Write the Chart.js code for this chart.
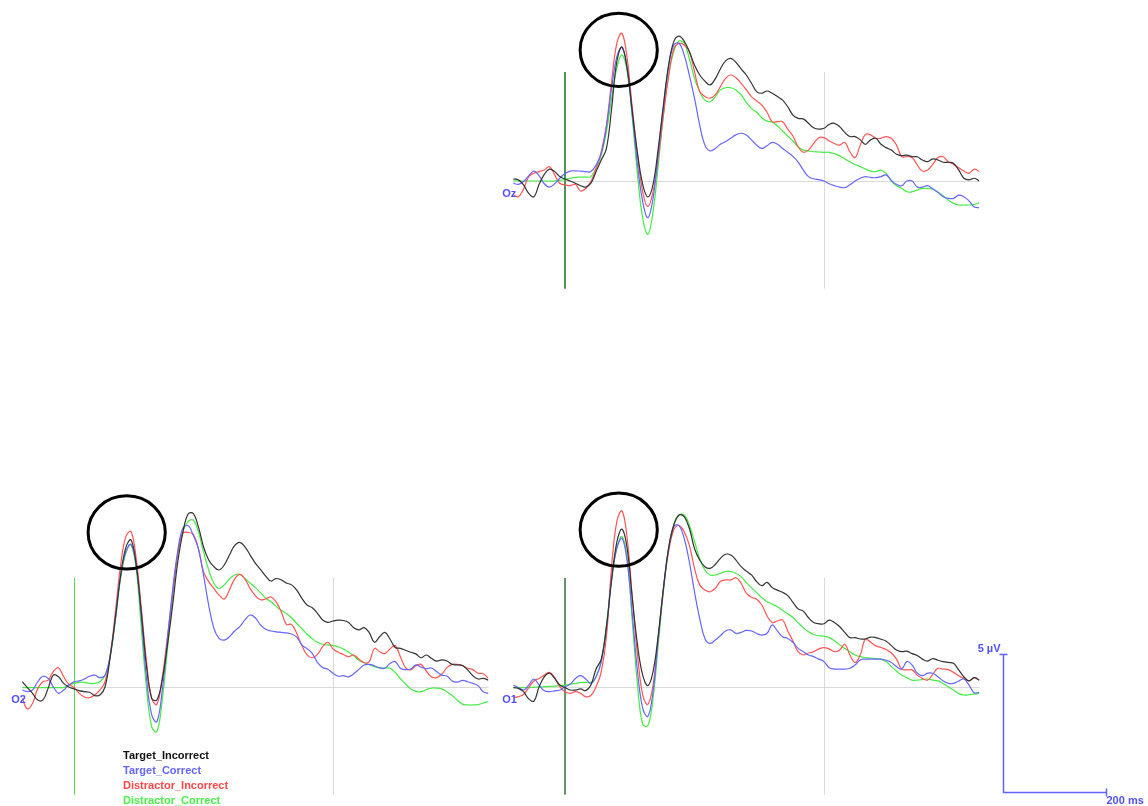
<!DOCTYPE html>
<html>
<head>
<meta charset="utf-8">
<title>ERP – occipital channels</title>
<script src="https://cdn.jsdelivr.net/npm/chart.js@4.4.1/dist/chart.umd.min.js"></script>
<style>
  html, body { margin: 0; padding: 0; background: #fff; }
  body { width: 1148px; height: 806px; position: relative; overflow: hidden; }
  canvas { position: absolute; }
</style>
</head>
<body>
<canvas id="oz"></canvas>
<canvas id="o2"></canvas>
<canvas id="o1"></canvas>
<script>
// Time axis (ms, 10 ms steps, epoch -100 .. 800 ms)
const times = [-100,-90,-80,-70,-60,-50,-40,-30,-20,-10,
  0,10,20,30,40,50,60,70,80,90,
  100,110,120,130,140,150,160,170,180,190,
  200,210,220,230,240,250,260,270,280,290,
  300,310,320,330,340,350,360,370,380,390,
  400,410,420,430,440,450,460,470,480,490,
  500,510,520,530,540,550,560,570,580,590,
  600,610,620,630,640,650,660,670,680,690,
  700,710,720,730,740,750,760,770,780,790,800];

const conditions = ['Target_Incorrect', 'Target_Correct', 'Distractor_Incorrect', 'Distractor_Correct'];

// Grand-average amplitudes in µV — channel Oz
const ozTargetIncorrect = [0.07,0.04,-0.14,-0.45,-0.57,-0.12,0.24,0.43,0.34,0.16,
  0.07,0.00,-0.08,-0.17,-0.22,-0.08,0.34,0.76,1.18,2.63,
  4.32,4.86,4.08,2.51,1.00,-0.12,-0.58,-0.12,1.18,2.75,
  4.20,5.05,5.25,5.07,4.69,4.20,3.84,3.62,3.48,3.70,
  4.06,4.35,4.44,4.30,4.06,3.84,3.54,3.24,3.18,3.26,
  3.18,3.06,2.93,2.69,2.39,2.27,2.25,2.09,1.93,1.88,
  1.91,2.05,2.09,1.97,1.76,1.61,1.61,1.49,1.33,1.49,
  1.55,1.33,1.21,1.12,0.97,0.92,0.94,0.88,0.88,0.76,
  0.70,0.80,0.76,0.68,0.68,0.64,0.40,0.10,0.04,0.10,0.00];
const ozTargetCorrect = [-0.08,-0.12,-0.02,0.19,0.36,0.19,-0.10,-0.22,-0.10,0.10,
  0.27,0.36,0.37,0.36,0.34,0.34,0.58,1.00,1.97,3.36,
  4.50,4.83,4.08,2.39,0.58,-0.75,-1.33,-0.63,1.00,2.69,
  4.14,4.93,4.99,4.57,3.84,3.00,2.03,1.30,1.09,1.18,
  1.33,1.43,1.55,1.67,1.73,1.67,1.49,1.30,1.18,1.28,
  1.40,1.33,1.18,1.04,0.89,0.68,0.40,0.16,0.08,0.05,
  0.00,-0.10,-0.17,-0.22,-0.24,-0.14,0.00,0.10,0.16,0.13,
  0.12,0.16,0.22,0.02,-0.12,-0.17,0.00,0.00,-0.22,-0.22,
  -0.17,-0.29,-0.41,-0.57,-0.63,-0.63,-0.51,-0.57,-0.72,-0.94,-0.97];
const ozDistractorIncorrect = [-0.51,-0.57,-0.29,0.16,0.28,0.34,0.40,0.52,0.22,-0.08,
  -0.14,-0.17,-0.12,-0.36,-0.27,-0.02,0.46,1.06,2.03,3.60,
  4.99,5.35,4.44,2.63,0.94,-0.39,-0.93,-0.39,0.82,2.39,
  3.78,4.78,4.99,4.93,4.69,3.96,3.24,3.06,3.00,3.12,
  3.42,3.72,3.84,3.74,3.54,3.30,3.06,2.90,2.75,2.49,
  2.15,2.15,2.15,1.88,1.63,1.24,1.04,1.12,1.36,1.57,
  1.57,1.45,1.36,1.30,1.40,1.06,0.85,1.30,1.69,1.67,
  1.55,1.55,1.61,1.55,1.30,0.88,0.88,0.85,0.58,0.36,
  0.40,0.60,0.85,0.88,0.70,0.60,0.48,0.36,0.28,0.43,0.34];
const ozDistractorCorrect = [0.00,0.00,0.00,0.00,0.00,0.00,0.00,0.00,0.00,0.02,
  0.06,0.10,0.13,0.14,0.14,0.16,0.46,0.94,1.79,3.00,
  4.08,4.57,3.96,2.27,0.22,-1.35,-1.93,-1.11,0.58,2.39,
  3.84,4.69,5.07,4.99,4.44,3.72,3.24,2.93,2.87,3.05,
  3.30,3.38,3.38,3.30,3.12,2.85,2.63,2.49,2.29,2.17,
  2.13,2.00,1.81,1.63,1.45,1.24,1.12,1.09,1.06,1.05,
  1.04,1.04,0.99,0.91,0.80,0.70,0.60,0.52,0.43,0.36,
  0.34,0.39,0.27,0.00,-0.17,-0.27,-0.39,-0.39,-0.33,-0.27,
  -0.27,-0.29,-0.41,-0.53,-0.69,-0.81,-0.87,-0.87,-0.87,-0.85,-0.79];

// Channel O2
const o2TargetIncorrect = [0.19,-0.02,-0.23,-0.47,-0.47,-0.05,0.43,0.37,0.13,0.00,
  -0.07,-0.13,-0.17,-0.19,-0.31,-0.29,0.01,1.11,2.52,4.03,
  5.05,5.33,4.44,2.69,0.76,-0.41,-0.47,0.23,1.46,2.90,
  4.48,5.58,6.26,6.29,5.81,5.08,4.60,4.36,4.24,4.42,
  4.78,5.12,5.24,5.08,4.78,4.49,4.26,4.02,3.84,3.93,
  3.88,3.77,3.70,3.51,3.21,2.97,2.87,2.67,2.43,2.34,
  2.39,2.42,2.41,2.34,2.15,2.07,2.15,1.97,1.62,1.82,
  1.98,1.74,1.43,1.40,1.33,1.26,1.20,1.06,1.16,1.04,
  0.94,0.98,0.94,0.82,0.80,0.78,0.62,0.41,0.29,0.31,0.25];
const o2TargetCorrect = [-0.11,-0.17,-0.11,0.19,0.39,0.31,0.01,-0.23,-0.11,0.07,
  0.19,0.22,0.29,0.39,0.43,0.34,0.43,1.16,2.49,4.06,
  4.90,5.17,4.42,2.49,0.31,-1.01,-1.26,-0.17,1.64,3.45,
  4.90,5.75,5.85,5.51,5.02,4.06,2.97,2.13,1.76,1.70,
  1.82,2.03,2.19,2.43,2.61,2.51,2.25,2.09,2.03,2.00,
  1.98,1.96,1.92,1.81,1.52,1.39,1.22,0.89,0.71,0.64,
  0.50,0.39,0.41,0.37,0.48,0.64,0.80,0.82,0.77,0.69,
  0.68,0.85,0.92,0.68,0.63,0.65,0.80,0.72,0.66,0.69,
  0.56,0.43,0.40,0.22,0.18,0.24,0.19,0.13,0.05,-0.17,-0.23];
const o2DistractorIncorrect = [-0.41,-0.80,-0.59,-0.05,0.19,0.25,0.56,0.70,0.37,0.10,
  -0.02,-0.23,-0.36,-0.39,-0.29,-0.11,0.19,1.16,2.73,4.42,
  5.45,5.63,4.66,2.85,0.92,-0.41,-0.63,0.29,1.76,3.33,
  4.78,5.57,5.60,5.53,5.02,4.18,3.82,3.57,3.33,3.19,
  3.51,3.91,4.08,3.91,3.57,3.31,3.16,3.19,3.26,3.09,
  2.73,2.27,2.27,1.94,1.50,1.16,1.06,1.18,1.46,1.62,
  1.38,1.26,1.18,1.10,1.16,1.01,0.88,0.92,1.40,1.28,
  1.21,1.38,1.50,1.10,0.70,0.62,0.77,0.82,0.58,0.37,
  0.34,0.46,0.70,0.82,0.82,0.77,0.68,0.63,0.50,0.48,0.31];
const o2DistractorCorrect = [-0.02,-0.02,-0.02,-0.02,-0.02,-0.02,-0.02,-0.02,-0.02,0.07,
  0.13,0.17,0.17,0.13,0.13,0.19,0.43,1.10,2.42,3.93,
  4.84,5.15,4.30,2.12,-0.05,-1.44,-1.62,-0.53,1.28,3.21,
  4.78,5.63,5.99,6.05,5.63,4.90,4.24,3.76,3.57,3.70,
  3.91,4.06,4.08,3.93,3.76,3.61,3.42,3.22,3.09,2.93,
  2.78,2.66,2.51,2.30,2.11,1.91,1.75,1.62,1.55,1.52,
  1.51,1.46,1.38,1.27,1.13,0.97,0.88,0.81,0.74,0.69,
  0.69,0.68,0.53,0.30,0.11,-0.06,-0.16,-0.17,-0.10,-0.04,
  -0.04,-0.07,-0.17,-0.31,-0.48,-0.62,-0.65,-0.65,-0.64,-0.58,-0.53];

// Channel O1
const o1TargetIncorrect = [-0.02,-0.05,-0.17,-0.43,-0.51,0.01,0.37,0.50,0.31,0.07,
  -0.02,-0.11,-0.11,-0.07,-0.13,0.07,0.65,1.01,2.19,3.88,
  5.24,5.72,5.02,3.21,1.52,0.43,0.05,0.56,1.88,3.57,
  5.02,5.87,6.23,6.17,5.75,5.02,4.60,4.36,4.30,4.44,
  4.66,4.81,4.78,4.60,4.36,4.20,4.06,3.82,3.67,3.79,
  3.60,3.51,3.43,3.31,3.07,2.83,2.75,2.51,2.34,2.29,
  2.29,2.42,2.34,2.19,1.98,1.79,1.79,1.74,1.74,1.81,
  1.79,1.73,1.66,1.50,1.34,1.28,1.30,1.21,1.14,1.01,
  0.94,1.03,0.97,0.92,0.89,0.86,0.62,0.37,0.22,0.34,0.25];
const o1TargetCorrect = [0.07,-0.02,-0.11,0.07,0.29,0.07,-0.14,-0.17,-0.14,-0.11,
  0.01,0.10,0.31,0.41,0.29,0.13,0.37,0.92,2.13,3.94,
  5.02,5.39,4.54,2.61,0.56,-0.77,-1.07,-0.17,1.76,3.57,
  5.02,5.81,5.85,5.39,4.54,3.45,2.49,1.76,1.58,1.70,
  1.86,2.03,2.07,1.94,1.98,2.05,2.03,1.94,1.88,1.94,
  2.25,2.03,1.82,1.76,1.62,1.40,1.28,1.16,1.10,1.01,
  0.92,0.70,0.65,0.65,0.65,0.68,0.80,0.98,1.01,1.01,
  1.01,1.01,0.97,0.89,0.74,0.65,0.92,0.80,0.50,0.41,
  0.50,0.50,0.37,0.22,0.13,0.13,0.22,0.29,0.07,-0.21,-0.19];
const o1DistractorIncorrect = [-0.39,-0.35,-0.27,-0.02,0.22,0.31,0.43,0.53,0.34,0.01,
  -0.17,-0.23,-0.17,-0.23,-0.35,-0.31,0.01,0.56,1.82,4.36,
  5.99,6.38,5.39,3.21,1.16,-0.29,-0.63,0.07,1.76,3.57,
  4.90,5.69,5.85,5.63,5.14,4.30,3.70,3.51,3.45,3.57,
  3.82,3.88,3.88,3.96,3.76,3.40,3.25,3.18,2.97,2.58,
  2.34,2.39,2.43,2.03,1.67,1.28,1.16,1.23,1.28,1.38,
  1.43,1.38,1.28,1.33,1.55,1.16,0.89,1.16,1.74,1.62,
  1.49,1.43,1.36,1.23,1.01,0.65,0.62,0.62,0.43,0.31,
  0.25,0.46,0.68,0.65,0.63,0.53,0.41,0.31,0.22,0.34,0.25];
const o1DistractorCorrect = [-0.02,-0.02,-0.02,-0.02,-0.01,0.00,0.01,0.02,0.03,0.05,
  0.07,0.10,0.13,0.16,0.17,0.17,0.37,0.92,2.25,3.88,
  5.02,5.45,4.66,2.37,0.07,-1.35,-1.40,-0.41,1.52,3.45,
  5.02,5.87,6.23,6.23,5.87,5.27,4.66,4.24,4.06,4.06,
  4.12,4.18,4.18,4.12,4.00,3.78,3.60,3.42,3.24,3.09,
  3.01,2.91,2.78,2.65,2.52,2.33,2.15,2.00,1.90,1.86,
  1.84,1.79,1.68,1.53,1.40,1.28,1.16,1.10,1.06,1.05,
  1.03,1.00,0.92,0.74,0.58,0.43,0.34,0.25,0.25,0.27,
  0.29,0.25,0.22,0.13,0.01,-0.11,-0.24,-0.29,-0.28,-0.25,-0.23];

// ---- drawing ----
const traceColors = ['#333333', '#6666ff', '#ff5555', '#44ec44'];
const legendColors = ['#111111', '#6464ff', '#ff4646', '#48f048'];
const labelBlue = '#5050ff';
const FONT = '"Liberation Sans", Arial, sans-serif';

const PX_PER_MS = 0.518;
const PX_PER_UV = 27.6;
const T_MIN = -100, T_MAX = 800;

const panels = [
  { id: 'oz', name: 'Oz', onsetX: 565, zeroY: 181, box: { left: 490, top: 0, width: 510, height: 300 },
    onsetColor: '#4f944f', onsetWidth: 2, ring: { t: 103.7, v: 4.75 },
    series: [ozTargetIncorrect, ozTargetCorrect, ozDistractorIncorrect, ozDistractorCorrect] },
  { id: 'o2', name: 'O2', onsetX: 74, zeroY: 687, box: { left: 0, top: 490, width: 490, height: 316 },
    onsetColor: '#4fdc4f', onsetWidth: 1, ring: { t: 101.7, v: 5.6 }, legend: true,
    series: [o2TargetIncorrect, o2TargetCorrect, o2DistractorIncorrect, o2DistractorCorrect] },
  { id: 'o1', name: 'O1', onsetX: 565, zeroY: 687, box: { left: 490, top: 490, width: 658, height: 316 },
    onsetColor: '#6a926a', onsetWidth: 2, ring: { t: 103.7, v: 5.7 }, scaleBar: true,
    series: [o1TargetIncorrect, o1TargetCorrect, o1DistractorIncorrect, o1DistractorCorrect] }
];

// Calibration bar anchored in O1 coordinates: 5 µV / 200 ms
const scaleBar = { t: 845, v: -3.8, uv: 5, ms: 200 };

function decorations(panel) {
  return {
    id: 'erpDecor_' + panel.id,
    beforeDatasetsDraw(chart) {
      const { ctx } = chart;
      const xs = chart.scales.x, ys = chart.scales.y;
      ctx.save();
      // baseline at 0 µV
      const y0 = Math.round(ys.getPixelForValue(0)) + 0.5;
      ctx.strokeStyle = '#d9d9d9';
      ctx.lineWidth = 1;
      ctx.beginPath();
      ctx.moveTo(xs.getPixelForValue(T_MIN), y0);
      ctx.lineTo(xs.getPixelForValue(T_MAX), y0);
      ctx.stroke();
      // 500 ms marker
      const yTop = ys.getPixelForValue(3.95), yBot = ys.getPixelForValue(-3.9);
      const x500 = Math.round(xs.getPixelForValue(500)) + 0.5;
      ctx.beginPath();
      ctx.moveTo(x500, yTop);
      ctx.lineTo(x500, yBot);
      ctx.stroke();
      // stimulus onset
      const xOn = Math.round(xs.getPixelForValue(0)) + (panel.onsetWidth % 2 ? 0.5 : 0);
      ctx.strokeStyle = panel.onsetColor;
      ctx.lineWidth = panel.onsetWidth;
      ctx.beginPath();
      ctx.moveTo(xOn, yTop);
      ctx.lineTo(xOn, yBot);
      ctx.stroke();
      ctx.restore();
    },
    afterDatasetsDraw(chart) {
      const { ctx } = chart;
      const xs = chart.scales.x, ys = chart.scales.y;
      ctx.save();
      // channel name
      ctx.fillStyle = labelBlue;
      ctx.font = 'bold 11px ' + FONT;
      ctx.textBaseline = 'middle';
      ctx.textAlign = 'left';
      ctx.fillText(panel.name, xs.getPixelForValue(T_MIN) - 11, ys.getPixelForValue(0) + 13);
      // P1 highlight ring
      ctx.strokeStyle = '#000';
      ctx.lineWidth = 3;
      ctx.beginPath();
      ctx.ellipse(xs.getPixelForValue(panel.ring.t), ys.getPixelForValue(panel.ring.v), 38.6, 36.6, 0, 0, Math.PI * 2);
      ctx.stroke();

      if (panel.legend) {
        ctx.font = 'bold 11px ' + FONT;
        ctx.textBaseline = 'alphabetic';
        const lx = 123 - panel.box.left;
        chart.data.datasets.forEach((ds, i) => {
          ctx.fillStyle = legendColors[i];
          ctx.fillText(ds.label, lx, 758.5 - panel.box.top + i * 15);
        });
      }

      if (panel.scaleBar) {
        const bx0 = Math.round(xs.getPixelForValue(scaleBar.t)) + 0.5;
        const by0 = Math.round(ys.getPixelForValue(scaleBar.v)) + 0.5;
        const by1 = Math.round(ys.getPixelForValue(scaleBar.v + scaleBar.uv)) + 0.5;
        const bx1 = Math.round(xs.getPixelForValue(scaleBar.t + scaleBar.ms)) + 0.5;
        ctx.strokeStyle = '#6262ff';
        ctx.lineWidth = 1.5;
        ctx.beginPath();
        ctx.moveTo(bx0, by1);
        ctx.lineTo(bx0, by0);
        ctx.lineTo(bx1, by0);
        ctx.moveTo(bx0 - 4, by1);
        ctx.lineTo(bx0 + 4, by1);
        ctx.moveTo(bx1, by0 - 4);
        ctx.lineTo(bx1, by0 + 4);
        ctx.stroke();
        ctx.fillStyle = labelBlue;
        ctx.font = 'bold 11px ' + FONT;
        ctx.textBaseline = 'alphabetic';
        ctx.textAlign = 'right';
        ctx.fillText(scaleBar.uv + ' µV', bx0 - 3, by1 - 3);
        ctx.textAlign = 'left';
        ctx.fillText(scaleBar.ms + ' ms', bx1, by0 + 11);
      }
      ctx.restore();
    }
  };
}

panels.forEach(panel => {
  const cv = document.getElementById(panel.id);
  const b = panel.box;
  cv.width = b.width; cv.height = b.height;
  cv.style.left = b.left + 'px'; cv.style.top = b.top + 'px';
  cv.style.width = b.width + 'px'; cv.style.height = b.height + 'px';

  const plotLeft = panel.onsetX + T_MIN * PX_PER_MS;
  const plotRight = panel.onsetX + T_MAX * PX_PER_MS;
  const padLeft = plotLeft - b.left;
  const padRight = (b.left + b.width) - plotRight;
  const yMax = (panel.zeroY - b.top) / PX_PER_UV;
  const yMin = -((b.top + b.height) - panel.zeroY) / PX_PER_UV;

  new Chart(cv, {
    type: 'line',
    data: {
      datasets: panel.series.map((vals, i) => ({
        label: conditions[i],
        data: vals.map((v, k) => ({ x: times[k], y: v })),
        borderColor: traceColors[i],
        borderWidth: 1.2,
        pointRadius: 0,
        tension: 0.4,
        fill: false
      }))
    },
    options: {
      responsive: false,
      animation: false,
      devicePixelRatio: 1,
      layout: { padding: { left: padLeft, right: padRight, top: 0, bottom: 0 } },
      plugins: { legend: { display: false }, tooltip: { enabled: false } },
      scales: {
        x: { type: 'linear', min: T_MIN, max: T_MAX, display: false },
        y: { type: 'linear', min: yMin, max: yMax, display: false }
      }
    },
    plugins: [decorations(panel)]
  });
});
</script>
</body>
</html>
